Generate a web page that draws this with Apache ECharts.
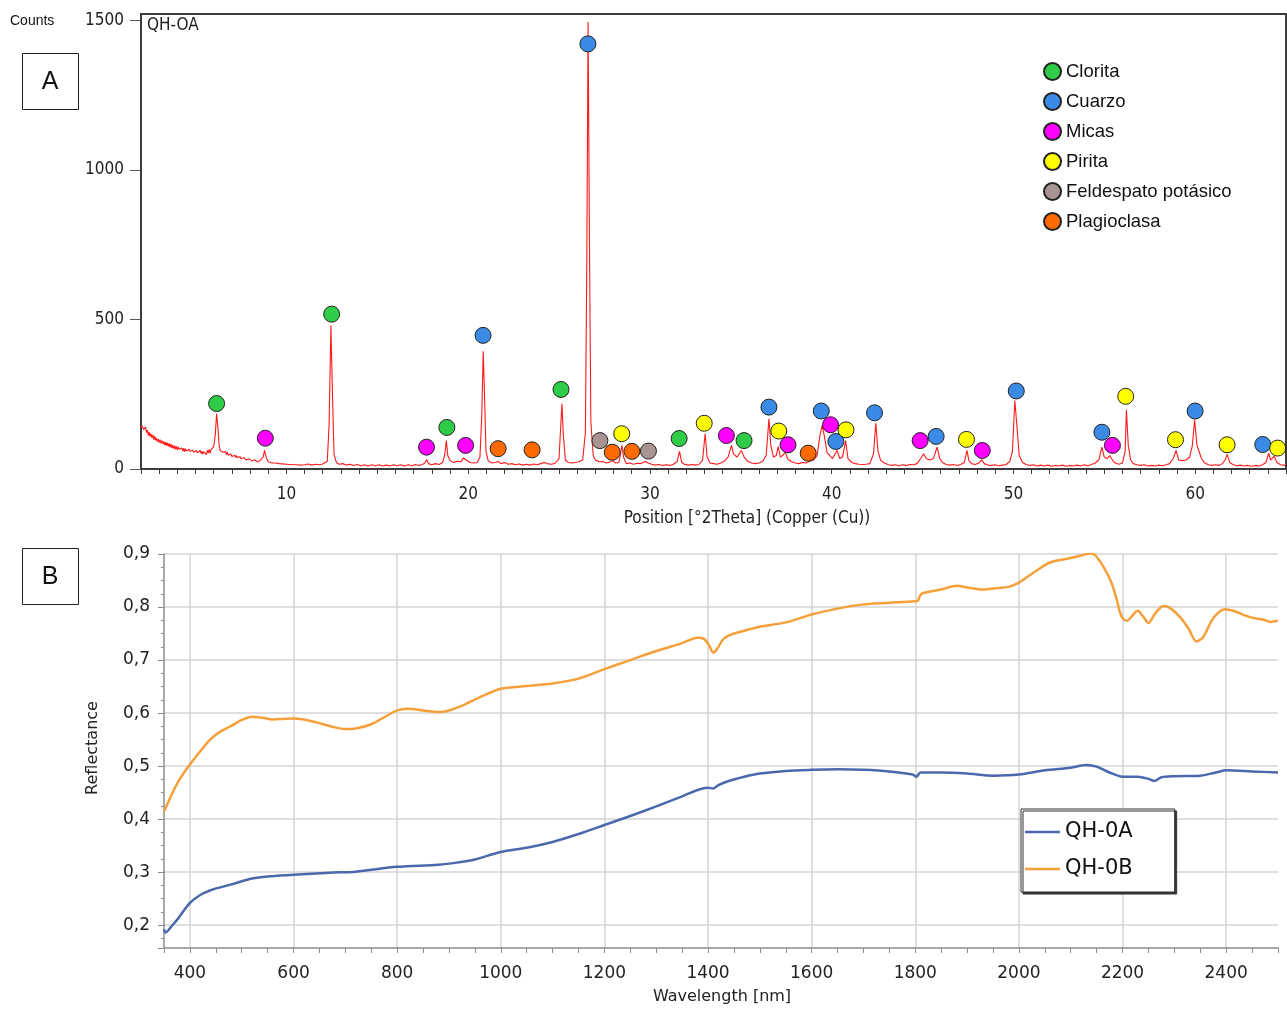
<!DOCTYPE html>
<html><head><meta charset="utf-8">
<script src="https://cdn.jsdelivr.net/npm/echarts@6/dist/echarts.min.js"></script>
<style>html,body{margin:0;padding:0;background:#fff}#c{width:1287px;height:1010px}</style>
</head><body><div id="c"></div>
<script>
// ---------- Panel A: XRD pattern (2theta, counts) ----------
const xrdPattern = [
[2.0,138],[2.05,145],[2.1,150],[2.15,132],[2.2,128],[2.25,140],[2.3,122],[2.35,130],[2.4,112],[2.45,124],
[2.5,108],[2.55,118],[2.6,104],[2.65,114],[2.7,98],[2.75,110],[2.8,96],[2.85,104],[2.9,92],[2.95,100],
[3.0,88],[3.05,98],[3.1,86],[3.15,95],[3.2,84],[3.25,92],[3.3,80],[3.35,90],[3.4,78],[3.45,88],
[3.5,76],[3.55,86],[3.6,72],[3.65,84],[3.7,70],[3.75,80],[3.8,68],[3.85,78],[3.9,66],[3.95,76],
[4.0,64],[4.05,74],[4.1,66],[4.15,72],[4.2,62],[4.25,70],[4.3,60],[4.35,70],[4.4,58],[4.45,68],
[4.5,60],[4.55,66],[4.6,56],[4.65,66],[4.7,58],[4.75,64],[4.8,54],[4.85,64],[4.9,56],[4.95,62],
[5.0,52],[5.05,62],[5.1,54],[5.15,60],[5.2,50],[5.25,62],[5.3,52],[5.35,60],[5.4,50],[5.45,58],
[5.5,52],[5.55,60],[5.6,48],[5.65,62],[5.7,54],[5.75,66],[5.8,52],[5.85,64],[5.9,58],[5.95,70],
[6.0,75],[6.08,110],[6.16,185],[6.23,140],[6.3,78],[6.35,62],[6.4,58],[6.45,66],[6.5,56],[6.55,62],
[6.6,50],[6.65,58],[6.7,48],[6.75,56],[6.8,46],[6.85,52],[6.9,44],[6.95,50],[7.0,42],[7.05,48],
[7.1,40],[7.15,46],[7.2,38],[7.25,45],[7.3,38],[7.35,44],[7.4,36],[7.45,42],[7.5,34],[7.55,40],
[7.6,33],[7.65,38],[7.7,32],[7.75,37],[7.8,30],[7.85,36],[7.9,30],[7.95,34],[8.0,28],[8.05,34],
[8.1,27],[8.15,32],[8.2,26],[8.25,31],[8.3,25],[8.35,30],[8.4,24],[8.45,29],[8.5,25],[8.55,28],
[8.6,26],[8.65,30],[8.72,40],[8.8,62],[8.9,36],[9.0,24],[9.1,28],[9.2,20],[9.3,25],[9.4,20],
[9.5,23],[9.6,18],[9.7,21],[9.8,17],[9.9,20],[10.0,16],[10.1,19],[10.2,15],[10.3,18],[10.4,14],
[10.5,18],[10.6,14],[10.7,17],[10.8,13],[10.9,17],[11.0,14],[11.2,17],[11.4,13],[11.6,16],[11.8,14],
[12.0,17],[12.25,26],[12.35,150],[12.45,480],[12.53,260],[12.62,50],[12.75,22],[12.9,16],[13.1,18],[13.3,13],
[13.5,16],[13.7,12],[13.9,15],[14.1,11],[14.3,14],[14.5,10],[14.7,14],[14.9,11],[15.1,14],[15.3,10],
[15.5,13],[15.7,10],[15.9,14],[16.1,11],[16.3,14],[16.5,10],[16.7,14],[16.9,11],[17.1,15],[17.3,12],
[17.5,16],[17.62,20],[17.72,32],[17.82,18],[18.0,14],[18.2,18],[18.4,15],[18.6,22],[18.72,50],[18.8,95],
[18.88,45],[19.0,28],[19.2,22],[19.4,26],[19.6,24],[19.75,37],[19.9,30],[20.1,22],[20.3,20],[20.5,22],
[20.65,40],[20.75,180],[20.83,394],[20.9,250],[20.98,60],[21.1,28],[21.3,20],[21.5,22],[21.65,25],[21.8,18],
[22.0,22],[22.2,16],[22.4,18],[22.6,14],[22.8,17],[23.0,13],[23.2,16],[23.4,13],[23.6,17],[23.8,14],
[24.0,18],[24.2,22],[24.4,17],[24.6,16],[24.8,20],[25.0,35],[25.1,150],[25.16,218],[25.23,120],[25.35,30],
[25.5,22],[25.7,20],[25.9,22],[26.1,24],[26.3,30],[26.45,120],[26.53,700],[26.6,1495],[26.67,800],[26.75,160],
[26.88,45],[27.0,30],[27.2,24],[27.4,25],[27.6,20],[27.8,23],[27.95,28],[28.1,20],[28.3,22],[28.46,79],
[28.55,40],[28.7,18],[28.9,20],[29.1,16],[29.3,19],[29.5,18],[29.75,25],[29.9,20],[30.1,16],[30.3,13],
[30.5,15],[30.7,12],[30.9,14],[31.1,12],[31.3,16],[31.5,25],[31.63,59],[31.75,22],[31.9,16],[32.1,13],
[32.3,15],[32.5,13],[32.7,15],[32.9,30],[33.04,118],[33.15,40],[33.3,20],[33.5,18],[33.7,16],[33.9,20],
[34.1,26],[34.3,40],[34.49,79],[34.6,50],[34.8,40],[35.03,62],[35.2,38],[35.4,25],[35.6,20],[35.8,18],
[36.0,20],[36.2,25],[36.4,45],[36.55,168],[36.65,80],[36.8,40],[36.95,45],[37.06,75],[37.18,40],[37.3,45],
[37.44,56],[37.6,32],[37.8,24],[38.0,20],[38.2,18],[38.4,22],[38.6,20],[38.8,26],[39.0,30],[39.2,45],
[39.35,110],[39.48,146],[39.6,110],[39.75,55],[39.9,45],[40.05,35],[40.3,62],[40.45,35],[40.6,40],[40.77,95],
[40.9,35],[41.1,22],[41.3,18],[41.5,16],[41.7,15],[41.9,16],[42.1,18],[42.3,50],[42.43,153],[42.55,60],
[42.7,28],[42.9,20],[43.1,15],[43.3,12],[43.5,14],[43.7,11],[43.9,14],[44.1,12],[44.3,15],[44.5,14],
[44.7,18],[44.9,35],[45.06,51],[45.2,35],[45.4,30],[45.6,35],[45.8,73],[45.95,35],[46.1,22],[46.3,15],
[46.5,13],[46.7,15],[46.9,12],[47.1,15],[47.3,22],[47.45,62],[47.55,28],[47.7,18],[47.9,15],[48.1,20],
[48.26,31],[48.4,18],[48.6,13],[48.8,12],[49.0,14],[49.2,11],[49.4,13],[49.6,15],[49.8,25],[49.95,60],
[50.08,229],[50.2,140],[50.32,45],[50.5,22],[50.7,15],[50.9,12],[51.1,14],[51.3,10],[51.5,13],[51.7,10],
[51.9,13],[52.1,9],[52.3,12],[52.5,10],[52.7,13],[52.9,9],[53.1,12],[53.3,10],[53.5,13],[53.7,10],
[53.9,14],[54.1,11],[54.3,15],[54.5,20],[54.7,30],[54.87,73],[55.0,40],[55.15,35],[55.3,45],[55.45,30],
[55.6,20],[55.8,16],[56.0,20],[56.15,60],[56.22,198],[56.32,80],[56.45,30],[56.6,18],[56.8,14],[57.0,12],
[57.2,14],[57.4,10],[57.6,12],[57.8,10],[58.0,13],[58.2,11],[58.4,14],[58.6,18],[58.8,35],[58.95,62],
[59.1,30],[59.3,28],[59.5,30],[59.7,40],[59.85,80],[59.97,165],[60.1,80],[60.2,75],[60.35,35],[60.5,22],
[60.7,15],[60.9,12],[61.1,14],[61.3,12],[61.5,18],[61.65,30],[61.76,49],[61.9,22],[62.1,14],[62.3,11],
[62.5,13],[62.7,10],[62.9,12],[63.1,9],[63.3,12],[63.5,10],[63.7,14],[63.9,22],[64.05,53],[64.15,30],
[64.35,43],[64.5,22],[64.7,14],[64.9,12],[65.0,14]
];
const clorita = [[6.16,219],[12.49,518],[18.83,139],[25.11,266],[31.61,102],[35.18,95]];
const cuarzo = [[26.59,1422],[20.82,447],[36.55,207],[39.43,194],[40.23,92],[42.36,188],[45.75,109],[50.16,261],[54.87,123],[60.0,194],[63.72,82]];
const micas = [[8.84,103],[17.71,73],[19.86,79],[34.21,112],[37.6,81],[39.94,148],[44.87,95],[48.29,62],[55.45,79]];
const pirita = [[28.45,118],[32.99,153],[37.09,127],[40.79,131],[47.42,99],[56.18,243],[58.92,98],[61.76,81],[64.54,70]];
const feldespato = [[27.25,95],[29.92,60]];
const plagioclasa = [[21.65,68],[23.52,64],[27.93,56],[29.01,59],[38.71,53]];
const phaseNames = ['Clorita','Cuarzo','Micas','Pirita','Feldespato potásico','Plagioclasa'];
const xrdYTicks = [0,500,1000,1500];
const xrdXLabels = [10,20,30,40,50,60];

// ---------- Panel B: reflectance spectra (nm, reflectance) ----------
const qh0a = [
[350,0.192],[353,0.186],[358,0.190],[362,0.195],[376,0.211],[400,0.242],[420,0.257],[440,0.266],[480,0.277],[520,0.288],
[550,0.292],[600,0.295],[670,0.299],[720,0.301],[800,0.310],[880,0.314],[915,0.318],[950,0.324],[1000,0.338],[1050,0.346],
[1100,0.357],[1150,0.372],[1200,0.389],[1250,0.406],[1300,0.424],[1350,0.443],[1380,0.455],[1400,0.459],[1410,0.458],[1420,0.464],
[1440,0.472],[1470,0.480],[1500,0.486],[1550,0.491],[1600,0.493],[1650,0.494],[1700,0.493],[1750,0.490],[1795,0.484],[1802,0.480],
[1810,0.488],[1850,0.488],[1900,0.486],[1950,0.482],[2000,0.484],[2050,0.492],[2100,0.497],[2130,0.502],[2150,0.499],[2175,0.488],
[2200,0.480],[2230,0.480],[2250,0.476],[2262,0.472],[2275,0.479],[2300,0.481],[2350,0.482],[2380,0.488],[2400,0.492],[2450,0.490],[2500,0.488]
];
const qh0b = [
[350,0.415],[355,0.425],[365,0.447],[380,0.475],[400,0.503],[420,0.528],[440,0.551],[460,0.566],[480,0.576],[500,0.587],
[520,0.593],[540,0.591],[560,0.588],[580,0.589],[600,0.590],[620,0.588],[650,0.581],[680,0.573],[700,0.570],[720,0.571],
[750,0.579],[780,0.595],[800,0.605],[820,0.608],[850,0.605],[880,0.602],[900,0.605],[930,0.616],[960,0.630],[1000,0.646],
[1050,0.651],[1100,0.656],[1150,0.665],[1200,0.683],[1250,0.700],[1300,0.717],[1350,0.732],[1380,0.742],[1392,0.740],[1402,0.728],
[1410,0.714],[1418,0.722],[1430,0.740],[1450,0.750],[1480,0.758],[1500,0.763],[1550,0.771],[1600,0.786],[1650,0.797],[1700,0.805],
[1750,0.808],[1800,0.811],[1805,0.812],[1812,0.825],[1850,0.833],[1880,0.840],[1900,0.837],[1930,0.833],[1960,0.836],[1980,0.838],
[2000,0.846],[2030,0.866],[2060,0.884],[2098,0.892],[2124,0.898],[2136,0.901],[2147,0.898],[2163,0.876],[2179,0.845],[2189,0.813],
[2198,0.782],[2208,0.774],[2220,0.785],[2229,0.793],[2240,0.782],[2250,0.770],[2263,0.788],[2279,0.802],[2292,0.798],[2311,0.781],
[2327,0.760],[2343,0.735],[2356,0.744],[2375,0.779],[2398,0.796],[2414,0.793],[2446,0.781],[2472,0.776],[2485,0.772],[2500,0.774]
];
const specNames = ['QH-0A','QH-0B'];
const specXLabels = [400,600,800,1000,1200,1400,1600,1800,2000,2200,2400];

const phaseColors = ['#2ecc47','#3a8ae6','#ff00ff','#ffff00','#a89593','#ff6a00'];
const phaseData = [clorita, cuarzo, micas, pirita, feldespato, plagioclasa];

const condensed = "'DejaVu Sans Condensed','DejaVu Sans',sans-serif";
const dejavu = "'DejaVu Sans',sans-serif";
const arial = "'Liberation Sans',Arial,sans-serif";
const plain = v => String(v);

const chart = echarts.init(document.getElementById('c'), null, {renderer:'canvas'});
const option = {
  animation:false,
  backgroundColor:'#fff',
  textStyle:{fontFamily:dejavu},
  grid:[
    {left:141, top:14, width:1145, height:455, show:true, borderColor:'#3c3c3c', borderWidth:2, backgroundColor:'transparent'},
    {left:164, top:554, width:1114, height:394, show:false}
  ],
  xAxis:[
    {gridIndex:0, type:'value', min:2, max:65, interval:1,
     axisLine:{show:true, lineStyle:{color:'#3c3c3c', width:2}},
     axisTick:{show:true, inside:false, length:5, lineStyle:{color:'#3c3c3c', width:1}},
     axisLabel:{customValues:xrdXLabels, formatter:plain, margin:17, fontSize:17, color:'#222', fontFamily:condensed},
     splitLine:{show:false}},
    {gridIndex:1, type:'value', min:350, max:2500, minInterval:200, maxInterval:200,
     axisLine:{show:true, onZero:false, lineStyle:{color:'#8c8c8c', width:1.5}},
     axisTick:{show:true, length:5, lineStyle:{color:'#8c8c8c', width:1}},
     minorTick:{show:true, splitNumber:4, length:5, lineStyle:{color:'#8c8c8c', width:1}},
     axisLabel:{customValues:specXLabels, formatter:plain, margin:17, fontSize:17, color:'#222', fontFamily:dejavu},
     splitLine:{show:true, showMinLine:false, showMaxLine:false, lineStyle:{color:'#d4d4d4', width:1.5}}}
  ],
  yAxis:[
    {gridIndex:0, type:'value', min:0, max:1522,
     axisLine:{show:true, lineStyle:{color:'#3c3c3c', width:2}},
     axisTick:{show:true, customValues:xrdYTicks, length:11, lineStyle:{color:'#555', width:1}},
     axisLabel:{customValues:xrdYTicks, formatter:plain, margin:17, fontSize:17, color:'#222', fontFamily:condensed},
     splitLine:{show:false}},
    {gridIndex:1, type:'value', min:0.157, max:0.9, minInterval:0.1, maxInterval:0.1,
     axisLine:{show:true, onZero:false, lineStyle:{color:'#8c8c8c', width:1.5}},
     axisTick:{show:true, length:6, lineStyle:{color:'#8c8c8c', width:1}},
     minorTick:{show:true, splitNumber:4, length:3, lineStyle:{color:'#8c8c8c', width:1}},
     axisLabel:{showMinLabel:false, margin:14, fontSize:17, color:'#222', fontFamily:dejavu,
       formatter:v=>v.toFixed(1).replace('.',',')},
     splitLine:{show:true, showMinLine:false, lineStyle:{color:'#d4d4d4', width:1.5}}}
  ],
  legend:[
    {data:phaseNames, orient:'vertical', left:1043, top:62, padding:0, itemWidth:17, itemHeight:17, itemGap:11,
     icon:'circle', selectedMode:false,
     textStyle:{fontFamily:arial, fontSize:18.5, color:'#111', lineHeight:19}},
    {data:specNames, orient:'vertical', left:1021, top:809, itemWidth:35, itemHeight:2.5, itemGap:13,
     icon:'rect', selectedMode:false, backgroundColor:'#fff', borderColor:'#333', borderWidth:1,
     shadowColor:'#333', shadowBlur:0, shadowOffsetX:2, shadowOffsetY:2,
     padding:[11,42,11,4], itemStyle:{borderWidth:0},
     textStyle:{fontFamily:dejavu, fontSize:21, color:'#111', lineHeight:24}}
  ],
  series:[
    {name:'xrd', type:'line', xAxisIndex:0, yAxisIndex:0, data:xrdPattern, showSymbol:false, symbol:'none',
     sampling:'none', lineStyle:{color:'#ff1a1a', width:1.1}, z:2, silent:true},
    ...phaseNames.map((n,i)=>({
      name:n, type:'scatter', xAxisIndex:0, yAxisIndex:0, data:phaseData[i], symbol:'circle', symbolSize:16,
      itemStyle:{color:phaseColors[i], borderColor:'#222', borderWidth:1, opacity:1}, z:5})),
    {name:'QH-0A', type:'line', xAxisIndex:1, yAxisIndex:1, data:qh0a, showSymbol:false, symbol:'none',
     smooth:0.3, lineStyle:{color:'#4a69ad', width:2.5}, itemStyle:{color:'#4a69ad'}, z:3},
    {name:'QH-0B', type:'line', xAxisIndex:1, yAxisIndex:1, data:qh0b, showSymbol:false, symbol:'none',
     smooth:0.3, lineStyle:{color:'#f5a03a', width:2.5}, itemStyle:{color:'#f5a03a'}, z:3}
  ],
  graphic:[
    {type:'text', left:10, top:14, style:{text:'Counts', font:"14px 'Liberation Sans', Arial, sans-serif", fill:'#111'}},
    {type:'text', left:147, top:17, style:{text:'QH-OA', font:"17px 'DejaVu Sans Condensed','DejaVu Sans', sans-serif", fill:'#222'}},
    {type:'rect', shape:{x:22.5, y:53.5, width:56, height:56}, style:{fill:'#fff', stroke:'#222', lineWidth:1}},
    {type:'text', x:50, y:82, style:{text:'A', font:"25px 'Liberation Sans', Arial, sans-serif", fill:'#111', textAlign:'center', textVerticalAlign:'middle'}},
    {type:'rect', shape:{x:22.5, y:548.5, width:56, height:56}, style:{fill:'#fff', stroke:'#222', lineWidth:1}},
    {type:'text', x:50, y:577, style:{text:'B', font:"25px 'Liberation Sans', Arial, sans-serif", fill:'#111', textAlign:'center', textVerticalAlign:'middle'}},
    {type:'text', x:747, y:519, style:{text:'Position [°2Theta] (Copper (Cu))', font:"17px 'DejaVu Sans Condensed','DejaVu Sans', sans-serif", fill:'#222', textAlign:'center', textVerticalAlign:'middle'}},
    {type:'text', x:722, y:997, style:{text:'Wavelength [nm]', font:"16px 'DejaVu Sans', sans-serif", fill:'#222', textAlign:'center', textVerticalAlign:'middle'}},
    {type:'text', x:93, y:748, rotation:Math.PI/2, style:{text:'Reflectance', font:"16px 'DejaVu Sans', sans-serif", fill:'#222', textAlign:'center', textVerticalAlign:'middle'}}
  ]
};
chart.setOption(option);
</script></body></html>
